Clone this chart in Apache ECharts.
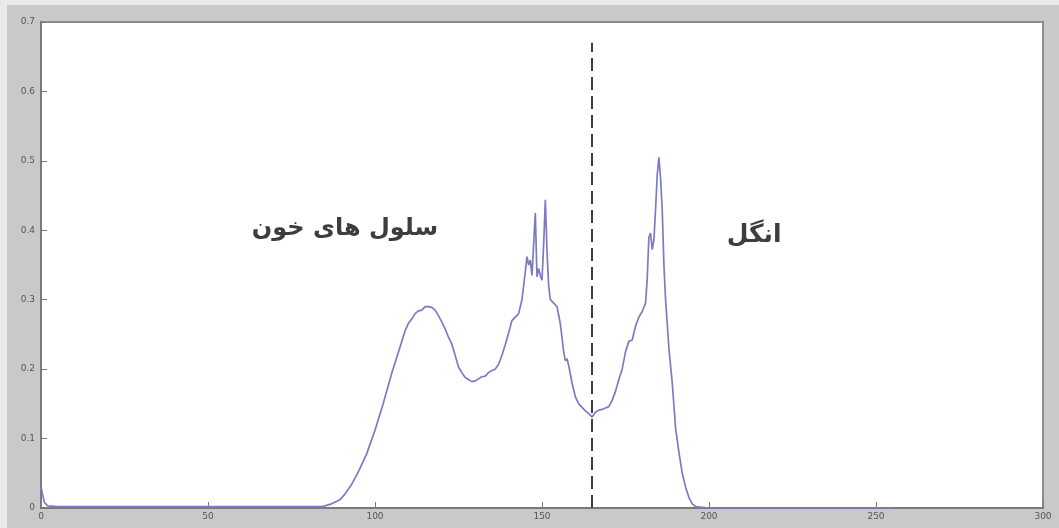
<!DOCTYPE html>
<html>
<head>
<meta charset="utf-8">
<script src="https://cdn.jsdelivr.net/npm/echarts@6/dist/echarts.min.js"></script>
<style>
html,body{margin:0;padding:0;background:#ececec;}
#chart{width:1059px;height:528px;}
</style>
</head>
<body>
<div id="chart"></div>
<script>
// Histogram values (grey level vs. normalised count)
const xValues = [0,1,2,5,10,20,30,40,50,60,70,80,84,85,87,89.5,91,93,95,97.5,100,102.5,105,107.5,109,110,111,112,113,114,115,116,117,118,119,120,121,122,123,124,125,126,127,128,129,130,131,132,133,134,135,136,137,138,139,140,141,142,143,144,145,145.5,146,146.5,147,147.5,148,148.5,149,149.5,150,150.5,151,151.5,152,152.5,153.5,154.5,155.5,156.5,157,157.5,158,159,160,161,162,163,164,165,166,167,168,169,170,171,172,173,174,175,176,177,178,179,180,181,181.5,182,182.5,183,183.5,184,184.5,185,185.5,186,186.5,187,188,189,190,191,192,193,194,195,196,200,220,240,255];
const yValues = [0.03,0.008,0.003,0.002,0.002,0.002,0.002,0.002,0.002,0.002,0.002,0.002,0.002,0.003,0.006,0.012,0.02,0.034,0.052,0.078,0.112,0.151,0.194,0.232,0.255,0.266,0.272,0.28,0.284,0.285,0.29,0.29,0.289,0.285,0.277,0.268,0.258,0.246,0.236,0.22,0.203,0.195,0.188,0.185,0.182,0.183,0.186,0.189,0.19,0.195,0.198,0.2,0.207,0.22,0.235,0.252,0.27,0.275,0.28,0.3,0.34,0.362,0.35,0.357,0.335,0.38,0.425,0.333,0.345,0.335,0.328,0.38,0.444,0.37,0.32,0.3,0.295,0.29,0.265,0.225,0.212,0.215,0.205,0.18,0.16,0.15,0.145,0.14,0.136,0.131,0.138,0.141,0.142,0.144,0.146,0.155,0.168,0.185,0.2,0.225,0.24,0.242,0.262,0.275,0.283,0.295,0.33,0.39,0.396,0.372,0.386,0.43,0.48,0.505,0.475,0.43,0.35,0.3,0.23,0.18,0.115,0.08,0.05,0.03,0.015,0.006,0.002,0,0,0,0];

const xTicks = [0,50,100,150,200,250,300];
const yTicks = [0,0.1,0.2,0.3,0.4,0.5,0.6,0.7];

// threshold line and region labels
const thresholdX = 165;
const thresholdTop = 0.67;
const labelBlood = {text: 'سلول های خون', x: 91, y: 0.402};
const labelParasite = {text: 'انگل', x: 213.5, y: 0.392};

const chart = echarts.init(document.getElementById('chart'), null, {renderer: 'canvas'});
const points = xValues.map((x, i) => [x, yValues[i]]);

chart.setOption({
  backgroundColor: '#c9c9c9',
  animation: false,
  graphic: [
    {type: 'rect', left: 0, top: 0, shape: {width: 1059, height: 5}, style: {fill: '#e9e9e9'}, silent: true},
    {type: 'rect', left: 0, top: 0, shape: {width: 7, height: 528}, style: {fill: '#e9e9e9'}, silent: true}
  ],
  grid: {
    left: 41, right: 16, top: 22, bottom: 20,
    show: true, backgroundColor: '#ffffff', borderColor: '#8c8c8c', borderWidth: 2
  },
  xAxis: {
    type: 'value', min: 0, max: 300, interval: 50,
    axisLine: {show: true, lineStyle: {color: '#7a7a7a', width: 2}},
    axisTick: {show: true, inside: true, length: 6, lineStyle: {color: '#7a7a7a'}},
    axisLabel: {color: '#555', fontSize: 9, margin: 4, fontFamily: 'DejaVu Sans',
      formatter: v => xTicks.includes(v) ? String(v) : ''},
    splitLine: {show: false}
  },
  yAxis: {
    type: 'value', min: 0, max: 0.7, interval: 0.1,
    axisLine: {show: true, lineStyle: {color: '#7a7a7a', width: 2}},
    axisTick: {show: true, inside: true, length: 6, lineStyle: {color: '#7a7a7a'}},
    axisLabel: {color: '#555', fontSize: 9, margin: 6, fontFamily: 'DejaVu Sans',
      formatter: v => { const t = yTicks.find(k => Math.abs(k - v) < 1e-9); return t === undefined ? '' : (t === 0 ? '0' : t.toFixed(1)); }},
    splitLine: {show: false}
  },
  series: [{
    type: 'line',
    data: points,
    showSymbol: false,
    symbol: 'none',
    lineStyle: {color: '#7b7bc4', width: 1.7},
    z: 3,
    markLine: {
      silent: true, symbol: ['none', 'none'],
      lineStyle: {color: '#3c3c3c', width: 2, type: [13, 6]},
      label: {show: false},
      data: [[{coord: [thresholdX, 0]}, {coord: [thresholdX, thresholdTop]}]]
    },
    markPoint: {
      silent: true, symbol: 'circle', symbolSize: 0,
      label: {show: true, position: 'inside', color: '#3d3d3d', fontSize: 24, fontWeight: 'bold', fontFamily: 'DejaVu Sans'},
      data: [
        {coord: [labelBlood.x, labelBlood.y], value: labelBlood.text, label: {formatter: labelBlood.text}},
        {coord: [labelParasite.x, labelParasite.y], value: labelParasite.text, label: {formatter: labelParasite.text, fontSize: 25}}
      ]
    }
  }]
});
</script>
</body>
</html>
